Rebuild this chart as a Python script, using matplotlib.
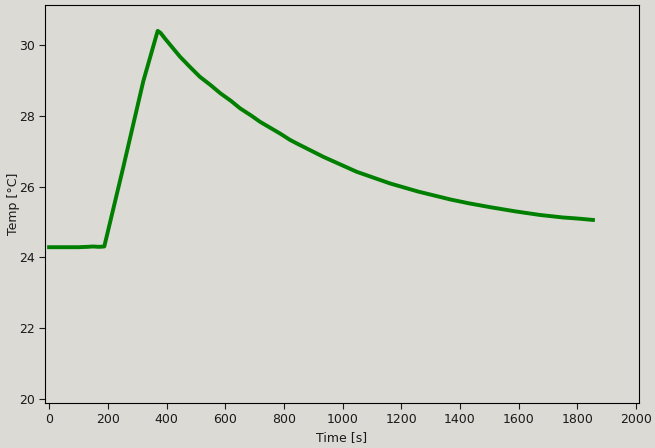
import matplotlib
matplotlib.use("Agg")
import matplotlib.pyplot as plt

time_s = [0, 50, 100, 130, 150, 170, 188, 253, 321, 370,
          380, 395, 420, 446, 480, 514, 550, 583, 620, 651, 690, 719, 787, 821,
          844, 935, 1048, 1162, 1258, 1332, 1366, 1430, 1503, 1590, 1673, 1750,
          1800, 1853]
temp_c = [24.29, 24.29, 24.29, 24.30, 24.31, 24.30, 24.31, 26.56, 28.98, 30.40,
          30.34, 30.18, 29.93, 29.67, 29.38, 29.10,
          28.87, 28.64, 28.42, 28.21, 28.00, 27.83, 27.50, 27.32, 27.22, 26.84,
          26.42, 26.09, 25.86, 25.71, 25.64, 25.53, 25.42, 25.30, 25.20, 25.13,
          25.10, 25.06]

x_ticks = [0, 200, 400, 600, 800, 1000, 1200, 1400, 1600, 1800, 2000]
y_ticks = [20, 22, 24, 26, 28, 30]

bg = "#dcdad5"
fig = plt.figure(figsize=(6.55, 4.48), dpi=100, facecolor=bg)
ax = fig.add_axes([45/655, 45/448, 594/655, 398/448], facecolor=bg)
ax.plot(time_s, temp_c, color="#007f00", lw=2.8, solid_joinstyle="round")
ax.set_xlim(-14, 2010)
ax.set_ylim(19.89, 31.13)
ax.set_xticks(x_ticks)
ax.set_yticks(y_ticks)
ax.tick_params(labelsize=9, length=4, colors="#1a1a1a", labelcolor="#1a1a1a")
ax.set_xlabel("Time [s]", fontsize=9, labelpad=3, color="#1a1a1a")
ax.set_ylabel("Temp [°C]", fontsize=9, labelpad=-1, color="#1a1a1a")
fig.savefig("out.png", dpi=100, facecolor=bg)
